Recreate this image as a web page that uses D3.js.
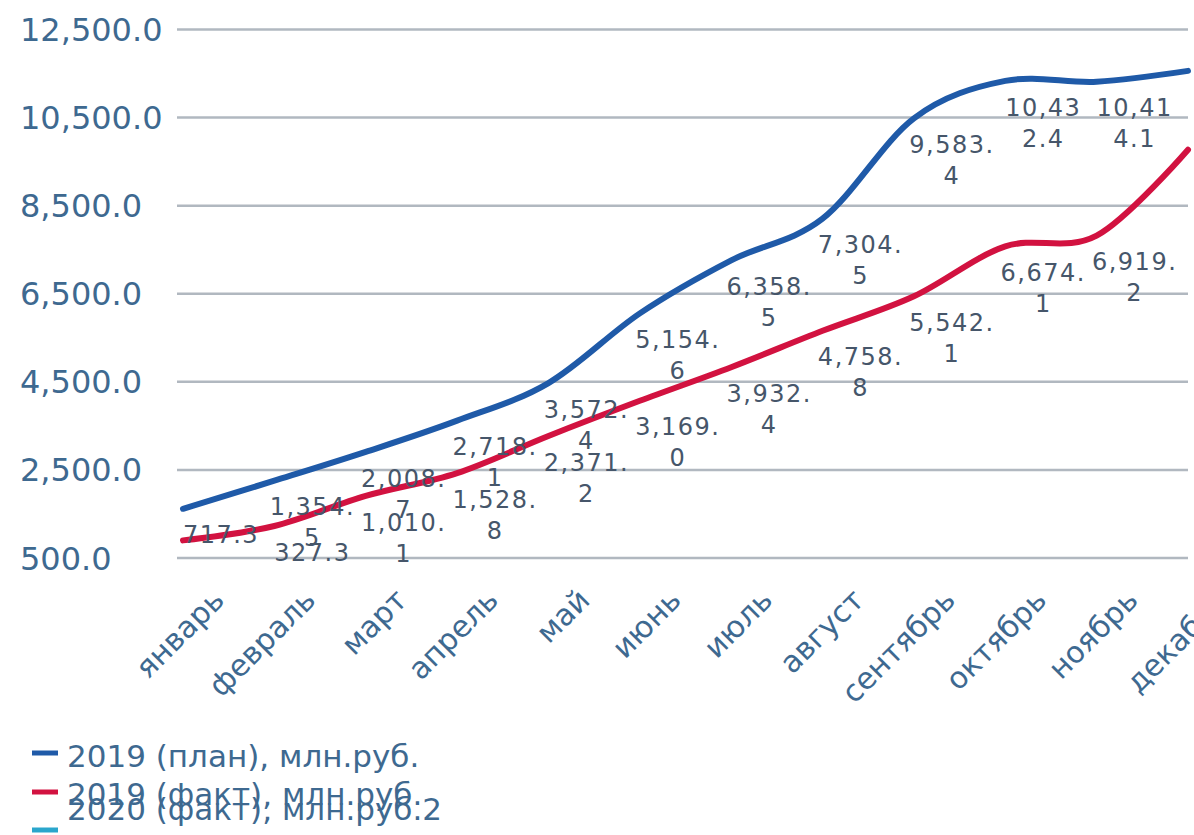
<!DOCTYPE html>
<html>
<head>
<meta charset="utf-8">
<script src="https://cdnjs.cloudflare.com/ajax/libs/d3/7.8.5/d3.min.js"></script>
<style>
  body { margin: 0; background: #fff; }
  text { font-family: "DejaVu Sans", Verdana, sans-serif; }
</style>
</head>
<body>
<div id="chart"></div>
<script>
// categories
var months = ["январь", "февраль", "март", "апрель", "май", "июнь",
              "июль", "август", "сентябрь", "октябрь", "ноябрь", "декабрь"];

// series values, млн.руб. (December, it is cut off)
var plan2019 = [717.3, 1354.5, 2008.7, 2718.1, 3572.4, 5154.6, 6358.5, 7304.5, 9583.4, 10432.4, 10414.1, 10660];
var fact2019 = [0, 327.3, 1010.1, 1528.8, 2371.2, 3169.0, 3932.4, 4758.8, 5542.1, 6674.1, 6919.2, 8870];
var fact2020 = [];

// data labels as printed
var planLabels = ["717.3", "1,354.5", "2,008.7", "2,718.1", "3,572.4", "5,154.6", "6,358.5",
                  "7,304.5", "9,583.4", "10,432.4", "10,414.1", null];
var factLabels = [null, "327.3", "1,010.1", "1,528.8", "2,371.2", "3,169.0", "3,932.4",
                  "4,758.8", "5,542.1", "6,674.1", "6,919.2", null];

// y tick labels as printed on the axis
var yTickLabels = ["500.0", "2,500.0", "4,500.0", "6,500.0", "8,500.0", "10,500.0", "12,500.0"];

var seriesNames = ["2019 (план), млн.руб.", "2019 (факт), млн.руб.", "2020 (факт), млн.руб.2"];
var seriesColors = ["#1f5aa8", "#d21240", "#2aa6cc"];

var W = 1194, H = 835;
var svg = d3.select("#chart").append("svg")
    .attr("width", W).attr("height", H);

var x = d3.scalePoint().domain(months).range([183, 1188]);
// gridlines of the picture sit 900 below their printed labels
var y = d3.scaleLinear().domain([-400, 11600]).range([558, 29.5]);
var yTicks = d3.range(-400, 11601, 2000);

// gridlines
svg.append("g")
  .selectAll("line")
  .data(yTicks)
  .join("line")
    .attr("x1", 177).attr("x2", 1188)
    .attr("y1", d => y(d)).attr("y2", d => y(d))
    .attr("stroke", "#b1b8c0")
    .attr("stroke-width", 2.5);

// y axis labels (left aligned)
svg.append("g")
  .selectAll("text")
  .data(yTicks)
  .join("text")
    .attr("x", 20)
    .attr("y", d => y(d))
    .attr("dy", "0.36em")
    .attr("font-size", 32)
    .attr("fill", "#3e6990")
    .text((d, i) => yTickLabels[i]);

// category labels
svg.append("g")
  .selectAll("text")
  .data(months)
  .join("text")
    .attr("transform", d => "translate(" + (x(d) + 43) + ",602) rotate(-45)")
    .attr("text-anchor", "end")
    .attr("font-size", 30)
    .attr("fill", "#3e6990")
    .text(d => d);

// lines
var line = d3.line()
    .x((d, i) => x(months[i]))
    .y(d => y(d))
    .curve(d3.curveCardinal.tension(0));

[plan2019, fact2019, fact2020].forEach(function(values, k) {
  if (!values.length) return;
  svg.append("path")
    .datum(values)
    .attr("d", line)
    .attr("fill", "none")
    .attr("stroke", seriesColors[k])
    .attr("stroke-width", 6)
    .attr("stroke-linecap", "round");
});

// data labels, wrapped like the original
var maxLabelW = 89;
function addLabel(str, px, py) {
  var t = svg.append("text")
      .attr("font-size", 24)
      .attr("letter-spacing", 1.5)
      .attr("fill", "#46566a")
      .attr("text-anchor", "middle");
  var lines = [], cur = "";
  var probe = t.append("tspan");
  for (var c of str) {
    probe.text(cur + c);
    if (cur && probe.node().getComputedTextLength() > maxLabelW) {
      lines.push(cur); cur = c;
    } else {
      cur += c;
    }
  }
  lines.push(cur);
  probe.remove();
  lines.forEach(function(s, i) {
    t.append("tspan")
      .attr("x", px + 38)
      .attr("y", py + 26 + i * 31)
      .attr("dy", "0.36em")
      .text(s);
  });
}
planLabels.forEach(function(s, i) {
  if (s) addLabel(s, x(months[i]), y(plan2019[i]));
});
factLabels.forEach(function(s, i) {
  if (s) addLabel(s, x(months[i]), y(fact2019[i]));
});

// legend
var legendMarkY = [753, 792, 830];
var legendTextY = [767, 805, 820];
var legend = svg.append("g");
seriesNames.forEach(function(name, k) {
  legend.append("line")
    .attr("x1", 32).attr("x2", 58)
    .attr("y1", legendMarkY[k]).attr("y2", legendMarkY[k])
    .attr("stroke", seriesColors[k])
    .attr("stroke-width", 5);
  legend.append("text")
    .attr("x", 67)
    .attr("y", legendTextY[k])
    .attr("font-size", 31)
    .attr("fill", "#3e6990")
    .text(name);
});
</script>
</body>
</html>
